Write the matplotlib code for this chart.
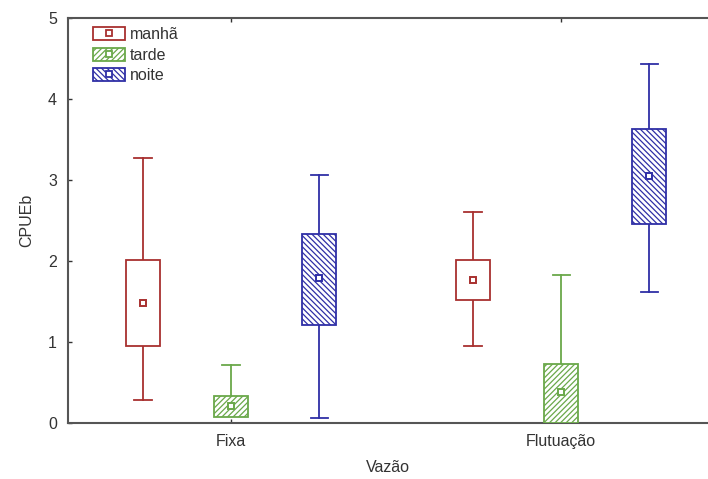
import numpy as np
import matplotlib
matplotlib.use("Agg")
import matplotlib.pyplot as plt
from matplotlib.patches import Rectangle, Patch
from matplotlib.lines import Line2D

plt.rcParams['font.family'] = ['Liberation Sans', 'DejaVu Sans']
plt.rcParams['hatch.linewidth'] = 0.9

# Vazão x período: média, caixa (inferior/superior) e barras (mín/máx)
grupos = ["Fixa", "Flutuação"]
periodos = ["manhã", "tarde", "noite"]
media = {"manhã": [1.48, 1.77], "tarde": [0.21, 0.38], "noite": [1.79, 3.05]}
caixa_inf = {"manhã": [0.95, 1.52], "tarde": [0.07, 0.00], "noite": [1.21, 2.46]}
caixa_sup = {"manhã": [2.01, 2.01], "tarde": [0.33, 0.73], "noite": [2.33, 3.63]}
bigode_inf = {"manhã": [0.28, 0.95], "tarde": [0.07, 0.00], "noite": [0.06, 1.62]}
bigode_sup = {"manhã": [3.27, 2.60], "tarde": [0.72, 1.83], "noite": [3.06, 4.43]}

cores = {"manhã": "#a8302f", "tarde": "#6aa84a", "noite": "#2f2fa6"}
hachuras = {"manhã": None, "tarde": "//////", "noite": "\\\\\\\\\\\\"}
desloc = {"manhã": -0.267, "tarde": 0.0, "noite": 0.267}

fig = plt.figure(figsize=(7.08, 4.79), dpi=100)
ax = fig.add_axes([68/708, 1-423/479, 640/708, 405/479])

larg = 0.103
cap = 0.026
for p in periodos:
    c = cores[p]
    for i in range(len(grupos)):
        x = i + desloc[p]
        # bigodes
        ax.plot([x, x], [bigode_inf[p][i], caixa_inf[p][i]], color=c, lw=1.3, zorder=2)
        ax.plot([x, x], [caixa_sup[p][i], bigode_sup[p][i]], color=c, lw=1.3, zorder=2)
        if bigode_inf[p][i] < caixa_inf[p][i]:
            ax.plot([x-cap, x+cap], [bigode_inf[p][i]]*2, color=c, lw=1.3, zorder=2)
        ax.plot([x-cap, x+cap], [bigode_sup[p][i]]*2, color=c, lw=1.3, zorder=2)
        # caixa
        ax.add_patch(Rectangle((x-larg/2, caixa_inf[p][i]), larg,
                               caixa_sup[p][i]-caixa_inf[p][i],
                               facecolor="white", edgecolor=c, hatch=hachuras[p],
                               lw=1.3, zorder=3))
        # média
        ax.plot(x, media[p][i], marker="s", ms=4.5, mfc="white", mec=c,
                mew=1.4, zorder=4)

ax.set_xlim(-0.494, 1.445)
ax.set_ylim(0, 5)
ax.set_xticks(range(len(grupos)))
ax.set_xticklabels(grupos)
ax.set_yticks([0, 1, 2, 3, 4, 5])
ax.tick_params(direction="in", length=3, width=1, colors="#333333", labelsize=11.5,
               top=True, pad=8)
ax.tick_params(axis="x", labelcolor="#333333", pad=8)
ax.set_xlabel("Vazão", fontsize=11.5, color="#333333", labelpad=8)
ax.set_ylabel("CPUEb", fontsize=11.5, color="#333333", labelpad=10)
for s in ["left", "top", "bottom"]:
    ax.spines[s].set_linewidth(1.5)
    ax.spines[s].set_color("#555555")
ax.spines["right"].set_visible(False)

# legenda: caixa com o marcador da média por dentro
handles = []
for p in periodos:
    caixa = Patch(facecolor="white", edgecolor=cores[p], hatch=hachuras[p], lw=1.3)
    marca = Line2D([], [], ls="none", marker="s", ms=4, mfc="white",
                   mec=cores[p], mew=1.3)
    handles.append((caixa, marca))
ax.legend(handles, periodos, loc="upper left", bbox_to_anchor=(0.025, 1.0),
          frameon=False, fontsize=11.5, handlelength=2.0, handleheight=0.9,
          handletextpad=0.3, labelspacing=0.35, labelcolor="#333333",
          borderaxespad=0.15)

fig.savefig("out.png", dpi=100)
